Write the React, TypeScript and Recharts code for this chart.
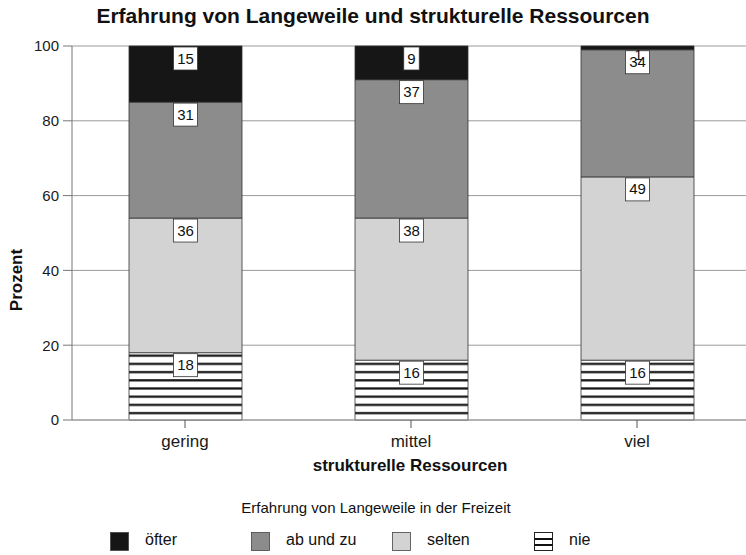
import React from 'react';
import { BarChart, Bar, XAxis, YAxis, CartesianGrid, LabelList, Legend } from 'recharts';

const categories = ['gering', 'mittel', 'viel'];
const nie = [18, 16, 16];
const selten = [36, 38, 49];
const abUndZu = [31, 37, 34];
const oefter = [15, 9, 1];
const yTicks = [0, 20, 40, 60, 80, 100];

const seriesKeys = ['nie', 'selten', 'abUndZu', 'oefter'];
const seriesNames: Record<string, string> = { oefter: 'öfter', abUndZu: 'ab und zu', selten: 'selten', nie: 'nie' };
const seriesFill: Record<string, string> = { oefter: '#161616', abUndZu: '#8c8c8c', selten: '#d3d3d3', nie: 'url(#hatchNie)' };

const data = categories.map((c, i) => ({
  name: c,
  nie: nie[i],
  selten: selten[i],
  abUndZu: abUndZu[i],
  oefter: oefter[i],
}));

const FONT = '"Liberation Sans", Arial, sans-serif';

const BoxLabel = (props: any) => {
  const { x, y, width, value } = props;
  const txt = String(value);
  const cx = Number(x) + Number(width) / 2;
  if (Number(value) < 3) {
    return (
      <text x={cx + 1} y={Number(y) + 14} textAnchor="middle" fontSize={14} fontFamily={FONT} fill="#111">
        {txt}
      </text>
    );
  }
  const w = txt.length * 8.5 + 7;
  const h = 23;
  const top = Number(y) + 1;
  return (
    <g>
      <rect x={cx - w / 2} y={top} width={w} height={h} fill="#fff" stroke="#333" strokeWidth={0.8} />
      <text x={cx} y={top + h / 2 + 5} textAnchor="middle" fontSize={15} fontFamily={FONT} fill="#111">
        {txt}
      </text>
    </g>
  );
};

const legendOrder = ['oefter', 'abUndZu', 'selten', 'nie'];
const legendX = [110, 251, 392, 534];

const renderLegend = () => (
  <div style={{ position: 'relative', width: 746, height: 65, fontFamily: FONT }}>
    <div style={{ position: 'absolute', left: 0, width: 752, top: 9, textAlign: 'center', fontSize: 15, color: '#111' }}>
      Erfahrung von Langeweile in der Freizeit
    </div>
    {legendOrder.map((k, i) => (
      <div key={k} style={{ position: 'absolute', left: legendX[i], top: 42 }}>
        <svg width={20} height={20} style={{ position: 'absolute', left: 0, top: 0 }}>
          {k === 'nie' ? (
            <g>
              <rect x={0.5} y={0.5} width={18} height={18} fill="#fff" stroke="#222" strokeWidth={1} />
              <rect x={0.5} y={6} width={18} height={2} fill="#111" />
              <rect x={0.5} y={12} width={18} height={2} fill="#111" />
            </g>
          ) : (
            <rect x={0.5} y={0.5} width={18} height={18} fill={seriesFill[k]} stroke="#444" strokeWidth={0.8} />
          )}
        </svg>
        <span style={{ position: 'absolute', left: 35, top: -1, fontSize: 16, color: '#111', whiteSpace: 'nowrap' }}>
          {seriesNames[k]}
        </span>
      </div>
    ))}
  </div>
);

export default function App() {
  return (
    <div style={{ position: 'absolute', left: 0, top: 0, width: 746, height: 555, overflow: 'hidden', background: '#fff', fontFamily: FONT }}>
      <svg width={0} height={0} style={{ position: 'absolute' }}>
        <defs>
          <pattern id="hatchNie" patternUnits="userSpaceOnUse" width={8} height={8.2}>
            <rect x={0} y={0} width={8} height={8.2} fill="#fff" />
            <rect x={0} y={2} width={8} height={2.2} fill="#111" />
          </pattern>
        </defs>
      </svg>
      <div style={{ position: 'absolute', left: 0, width: 746, top: 4, textAlign: 'center', fontSize: 21, fontWeight: 'bold', color: '#111', lineHeight: '24px' }}>
        Erfahrung von Langeweile und strukturelle Ressourcen
      </div>
      <div style={{ position: 'absolute', left: 300, width: 220, top: 455, textAlign: 'center', fontSize: 17, fontWeight: 'bold', color: '#111', lineHeight: '22px' }}>
        strukturelle Ressourcen
      </div>
      <div style={{ position: 'absolute', left: 17 - 50, top: 280 - 11, width: 100, textAlign: 'center', fontSize: 17, fontWeight: 'bold', color: '#111', lineHeight: '22px', transform: 'rotate(-90deg)' }}>
        Prozent
      </div>
      <BarChart width={750} height={555} data={data} margin={{ top: 46, right: 0, left: 12, bottom: 40 }} barSize={113}>
        <CartesianGrid horizontal={true} vertical={false} stroke="#9a9a9a" strokeWidth={1} />
        <XAxis
          dataKey="name"
          height={30}
          axisLine={{ stroke: '#9a9a9a' }}
          tickLine={{ stroke: '#555' }}
          tickSize={8}
          tickMargin={7}
          tick={{ fontSize: 17, fill: '#1a1a1a', fontFamily: FONT }}
        />
        <YAxis
          width={60}
          domain={[0, 100]}
          ticks={yTicks}
          axisLine={{ stroke: '#777' }}
          tickLine={{ stroke: '#777' }}
          tickSize={9}
          tickMargin={4}
          tick={{ fontSize: 15, fill: '#1a1a1a', fontFamily: FONT }}
        />
        <Legend content={renderLegend} wrapperStyle={{ position: 'absolute', left: 0, top: 490, width: 746, height: 65 }} />
        {seriesKeys.map((k) => (
          <Bar key={k} dataKey={k} name={seriesNames[k]} stackId="a" fill={seriesFill[k]} stroke="#333" strokeWidth={0.8} isAnimationActive={false}>
            <LabelList dataKey={k} content={BoxLabel} />
          </Bar>
        ))}
      </BarChart>
    </div>
  );
}
